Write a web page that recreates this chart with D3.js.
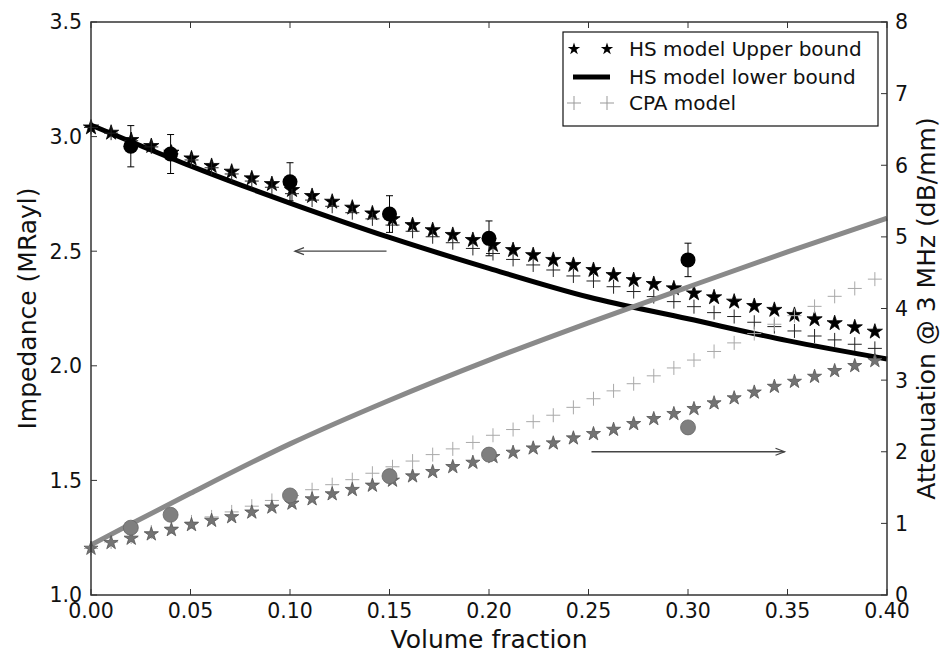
<!DOCTYPE html>
<html><head><meta charset="utf-8">
<script src="https://cdn.jsdelivr.net/npm/d3@7/dist/d3.min.js"></script>
<style>
body{margin:0;background:#fff;}
svg{display:block;font-family:"DejaVu Sans",sans-serif;}
</style>
</head><body>
<svg id="chart" width="942" height="654"></svg>
<script>
// ---------- data ----------
const volumeFraction = [0.0000,0.0101,0.0202,0.0303,0.0404,0.0505,0.0606,0.0707,0.0808,0.0909,
  0.1010,0.1111,0.1212,0.1313,0.1414,0.1515,0.1616,0.1717,0.1818,0.1919,
  0.2020,0.2121,0.2222,0.2323,0.2424,0.2525,0.2626,0.2727,0.2828,0.2929,
  0.3030,0.3131,0.3232,0.3333,0.3434,0.3535,0.3636,0.3737,0.3838,0.3939];

const impedanceHSUpper = [3.040,3.017,2.985,2.959,2.930,2.905,2.872,2.847,2.818,2.793,
  2.767,2.741,2.716,2.690,2.665,2.640,2.614,2.592,2.571,2.549,
  2.527,2.505,2.483,2.462,2.440,2.418,2.396,2.374,2.357,2.338,
  2.316,2.299,2.280,2.261,2.244,2.222,2.203,2.186,2.168,2.149];

const impedanceCPA = [3.040,3.015,2.982,2.955,2.925,2.898,2.864,2.837,2.806,2.779,
  2.751,2.723,2.696,2.668,2.641,2.614,2.587,2.563,2.537,2.512,
  2.490,2.464,2.440,2.418,2.392,2.370,2.345,2.324,2.302,2.280,
  2.258,2.232,2.215,2.190,2.171,2.152,2.130,2.113,2.094,2.076];

const lowerBoundX = [0.00,0.025,0.05,0.075,0.10,0.15,0.20,0.25,0.30,0.35,0.40];
const impedanceHSLower = [3.05,2.96,2.872,2.789,2.71,2.56,2.425,2.30,2.205,2.11,2.03];

const measuredX = [0.02,0.04,0.10,0.15,0.20,0.30];
const measuredImpedance = [2.958,2.924,2.803,2.662,2.556,2.462];
const measuredImpedanceErr = [0.09,0.085,0.083,0.08,0.076,0.073];
const measuredAttenuation = [0.94,1.12,1.39,1.66,1.96,2.34];

const attenuationHSUpper = [0.65,0.73,0.79,0.85,0.91,0.98,1.04,1.09,1.155,1.225,
  1.28,1.34,1.41,1.47,1.53,1.60,1.66,1.72,1.79,1.85,
  1.93,1.99,2.05,2.12,2.19,2.25,2.31,2.39,2.46,2.53,
  2.60,2.68,2.75,2.83,2.91,2.98,3.05,3.13,3.20,3.27];

const attenuationCPA = [0.65,0.74,0.81,0.88,0.95,1.02,1.09,1.16,1.24,1.32,
  1.39,1.47,1.54,1.61,1.70,1.79,1.87,1.96,2.04,2.13,
  2.23,2.31,2.42,2.51,2.62,2.74,2.85,2.95,3.06,3.17,
  3.28,3.40,3.52,3.65,3.78,3.90,4.03,4.17,4.28,4.41];

const attLineX = [0.00,0.02,0.05,0.10,0.15,0.20,0.25,0.30,0.35,0.40];
const attenuationHSLower = [0.70,0.99,1.42,2.11,2.72,3.28,3.80,4.30,4.79,5.26];

const xTicks = [0.00,0.05,0.10,0.15,0.20,0.25,0.30,0.35,0.40];
const yLeftTicks = [1.0,1.5,2.0,2.5,3.0,3.5];
const yRightTicks = [0,1,2,3,4,5,6,7,8];

const legendLabels = ["HS model Upper bound","HS model lower bound","CPA model"];
const xLabel = "Volume fraction";
const yLeftLabel = "Impedance (MRayl)";
const yRightLabel = "Attenuation @ 3 MHz (dB/mm)";

// ---------- layout ----------
const L = 91, R = 887, T = 22, B = 595;
const svg = d3.select("#chart");
const x = d3.scaleLinear().domain([0,0.4]).range([L,R]);
const yL = d3.scaleLinear().domain([1.0,3.5]).range([B,T]);
const yR = d3.scaleLinear().domain([0,8]).range([B,T]);

function starPath(Ro){
  const ri = Ro*0.382, pts=[];
  for(let k=0;k<10;k++){
    const a = -Math.PI/2 + k*Math.PI/5;
    const rr = k%2===0?Ro:ri;
    pts.push([rr*Math.cos(a), rr*Math.sin(a)]);
  }
  return "M"+pts.map(p=>p[0].toFixed(2)+","+p[1].toFixed(2)).join("L")+"Z";
}
function plusPath(h){ return `M${-h},0H${h}M0,${-h}V${h}`; }

const plot = svg.append("g");

// ---------- impedance (left axis) ----------
const gImp = plot.append("g");
gImp.append("path")
  .datum(lowerBoundX.map((v,i)=>[v,impedanceHSLower[i]]))
  .attr("d", d3.line().x(d=>x(d[0])).y(d=>yL(d[1])).curve(d3.curveMonotoneX))
  .attr("fill","none").attr("stroke","#000").attr("stroke-width",5);

gImp.selectAll(".istar").data(volumeFraction).join("path")
  .attr("d", starPath(8))
  .attr("transform",(d,i)=>`translate(${x(d)},${yL(impedanceHSUpper[i])})`)
  .attr("fill","#000").attr("stroke","#000").attr("stroke-width",0.8);

gImp.selectAll(".iplus").data(volumeFraction).join("path")
  .attr("d", plusPath(7))
  .attr("transform",(d,i)=>`translate(${x(d)},${yL(impedanceCPA[i])})`)
  .attr("fill","none").attr("stroke","#222").attr("stroke-width",1);

// error bars
const eb = gImp.selectAll(".eb").data(measuredX).join("g");
eb.append("line")
  .attr("x1",d=>x(d)).attr("x2",d=>x(d))
  .attr("y1",(d,i)=>yL(measuredImpedance[i]+measuredImpedanceErr[i]))
  .attr("y2",(d,i)=>yL(measuredImpedance[i]-measuredImpedanceErr[i]))
  .attr("stroke","#000").attr("stroke-width",1);
[1,-1].forEach(s=>{
  eb.append("line")
    .attr("x1",d=>x(d)-3.5).attr("x2",d=>x(d)+3.5)
    .attr("y1",(d,i)=>yL(measuredImpedance[i]+s*measuredImpedanceErr[i]))
    .attr("y2",(d,i)=>yL(measuredImpedance[i]+s*measuredImpedanceErr[i]))
    .attr("stroke","#000").attr("stroke-width",1);
});
gImp.selectAll(".icirc").data(measuredX).join("circle")
  .attr("cx",d=>x(d)).attr("cy",(d,i)=>yL(measuredImpedance[i]))
  .attr("r",7.5).attr("fill","#000");

function arrow(g,x1,y1,x2,y2){
  g.append("line").attr("x1",x1).attr("y1",y1).attr("x2",x2).attr("y2",y2)
    .attr("stroke","#444").attr("stroke-width",1.3);
  const dir = Math.sign(x2-x1);
  g.append("path").attr("d",`M${x2-dir*9},${y2-3.5}L${x2},${y2}L${x2-dir*9},${y2+3.5}`)
    .attr("fill","none").attr("stroke","#444").attr("stroke-width",1.3);
}
arrow(gImp, x(0.1485), yL(2.5), x(0.1025), yL(2.5));

// ---------- attenuation (right axis) ----------
const gAtt = plot.append("g");
gAtt.append("path")
  .datum(attLineX.map((v,i)=>[v,attenuationHSLower[i]]))
  .attr("d", d3.line().x(d=>x(d[0])).y(d=>yR(d[1])).curve(d3.curveMonotoneX))
  .attr("fill","none").attr("stroke","#8a8a8a").attr("stroke-width",5);

gAtt.selectAll(".aplus").data(volumeFraction).join("path")
  .attr("d", plusPath(7))
  .attr("transform",(d,i)=>`translate(${x(d)},${yR(attenuationCPA[i])})`)
  .attr("fill","none").attr("stroke","#a8a8a8").attr("stroke-width",1);

gAtt.selectAll(".astar").data(volumeFraction).join("path")
  .attr("d", starPath(7.4))
  .attr("transform",(d,i)=>`translate(${x(d)},${yR(attenuationHSUpper[i])})`)
  .attr("fill","#737373").attr("stroke","#555").attr("stroke-width",0.8);

gAtt.selectAll(".acirc").data(measuredX).join("circle")
  .attr("cx",d=>x(d)).attr("cy",(d,i)=>yR(measuredAttenuation[i]))
  .attr("r",7.5).attr("fill","#7f7f7f").attr("stroke","#666").attr("stroke-width",0.8);

arrow(gAtt, x(0.2515), yR(2.0), x(0.3485), yR(2.0));

// ---------- axes ----------
const axisColor = "#333";
const fontTick = 20.5;
svg.append("rect").attr("x",L).attr("y",T).attr("width",R-L).attr("height",B-T)
  .attr("fill","none").attr("stroke",axisColor).attr("stroke-width",1.5);

const tk = 6;
const ax = svg.append("g");
xTicks.forEach(v=>{
  ax.append("line").attr("x1",x(v)).attr("x2",x(v)).attr("y1",B).attr("y2",B-tk).attr("stroke",axisColor);
  ax.append("line").attr("x1",x(v)).attr("x2",x(v)).attr("y1",T).attr("y2",T+tk).attr("stroke",axisColor);
  ax.append("text").attr("x",x(v)).attr("y",618).attr("text-anchor","middle")
    .attr("font-size",fontTick).attr("fill","#111").text(d3.format(".2f")(v));
});
yLeftTicks.forEach(v=>{
  ax.append("line").attr("x1",L).attr("x2",L+tk).attr("y1",yL(v)).attr("y2",yL(v)).attr("stroke",axisColor);
  ax.append("text").attr("x",82).attr("y",yL(v)).attr("dy","0.36em").attr("text-anchor","end")
    .attr("font-size",fontTick).attr("fill","#111").text(d3.format(".1f")(v));
});
yRightTicks.forEach(v=>{
  ax.append("line").attr("x1",R).attr("x2",R-tk).attr("y1",yR(v)).attr("y2",yR(v)).attr("stroke",axisColor);
  ax.append("text").attr("x",895).attr("y",yR(v)).attr("dy","0.36em").attr("text-anchor","start")
    .attr("font-size",fontTick).attr("fill","#111").text(String(v));
});

ax.append("text").attr("x",(L+R)/2).attr("y",648).attr("text-anchor","middle")
  .attr("font-size",25).attr("fill","#111").text(xLabel);
ax.append("text").attr("transform",`translate(36,${(T+B)/2}) rotate(-90)`).attr("text-anchor","middle")
  .attr("font-size",25).attr("fill","#111").text(yLeftLabel);
ax.append("text").attr("transform",`translate(935,${(T+B)/2}) rotate(-90)`).attr("text-anchor","middle")
  .attr("font-size",25).attr("fill","#111").text(yRightLabel);

// ---------- legend ----------
const lg = svg.append("g");
lg.append("rect").attr("x",563).attr("y",32).attr("width",315).attr("height",94)
  .attr("fill","#fff").attr("stroke","#111").attr("stroke-width",1.2);
const rowY = [49,77,103];
[574,607].forEach(mx=>{
  lg.append("path").attr("d",starPath(6.5)).attr("transform",`translate(${mx},${rowY[0]})`).attr("fill","#000");
  lg.append("path").attr("d",plusPath(7)).attr("transform",`translate(${mx},${rowY[2]})`)
    .attr("fill","none").attr("stroke","#999").attr("stroke-width",1);
});
lg.append("line").attr("x1",573).attr("x2",610).attr("y1",rowY[1]).attr("y2",rowY[1])
  .attr("stroke","#000").attr("stroke-width",5);
legendLabels.forEach((t,i)=>{
  lg.append("text").attr("x",629).attr("y",rowY[i]).attr("dy","0.36em")
    .attr("font-size",20).attr("fill","#111").text(t);
});
</script>
</body></html>
